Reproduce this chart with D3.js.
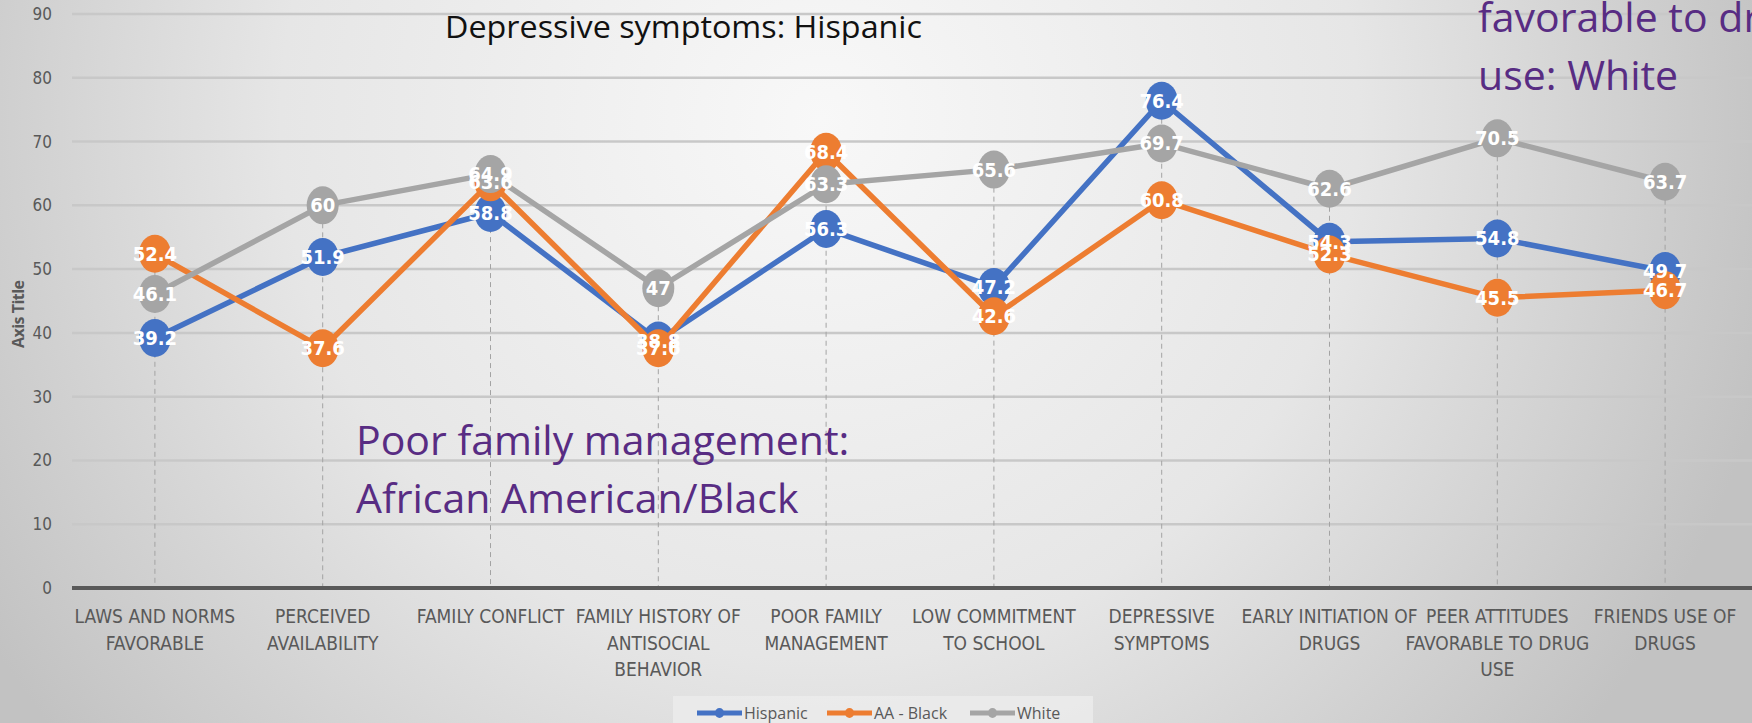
<!DOCTYPE html>
<html>
<head>
<meta charset="utf-8">
<script src="https://cdn.jsdelivr.net/npm/d3@7"></script>
<style>
body { margin: 0; overflow: hidden; }
svg { display: block; }
.tick-label { font-family: "Liberation Sans Narrow", "DejaVu Sans Condensed", "Liberation Sans", sans-serif; fill: #595959; }
.cat-label { font-family: "Liberation Sans Narrow", "DejaVu Sans Condensed", "Liberation Sans", sans-serif; fill: #595959; }
.data-label { font-family: "Liberation Sans Narrow", "DejaVu Sans Condensed", "Liberation Sans", sans-serif; font-weight: bold; fill: #fff; }
.note { font-family: "Open Sans", "Lato", sans-serif; fill: #582c83; }
</style>
</head>
<body>
<svg id="chart" width="1752" height="723"></svg>
<script>
// categories (already split into the lines shown under the axis)
var categories = [
  ["LAWS AND NORMS", "FAVORABLE"],
  ["PERCEIVED", "AVAILABILITY"],
  ["FAMILY CONFLICT"],
  ["FAMILY HISTORY OF", "ANTISOCIAL", "BEHAVIOR"],
  ["POOR FAMILY", "MANAGEMENT"],
  ["LOW COMMITMENT", "TO SCHOOL"],
  ["DEPRESSIVE", "SYMPTOMS"],
  ["EARLY INITIATION OF", "DRUGS"],
  ["PEER ATTITUDES", "FAVORABLE TO DRUG", "USE"],
  ["FRIENDS USE OF", "DRUGS"]
];
var seriesNames = ["Hispanic", "AA - Black", "White"];
var hispanic = [39.2, 51.9, 58.8, 38.8, 56.3, 47.2, 76.4, 54.3, 54.8, 49.7];
var aaBlack  = [52.4, 37.6, 63.6, 37.6, 68.4, 42.6, 60.8, 52.3, 45.5, 46.7];
var white    = [46.1, 60, 64.9, 47, 63.3, 65.6, 69.7, 62.6, 70.5, 63.7];
var yTicks = [0, 10, 20, 30, 40, 50, 60, 70, 80, 90];
var colors = ["#4472c4", "#ed7d31", "#a5a5a5"];

var values = [hispanic, aaBlack, white];
var keys = categories.map(c => c.join(" "));

var svg = d3.select("#chart");

// background
var defs = svg.append("defs");
var grad = defs.append("radialGradient").attr("id", "bg")
  .attr("gradientUnits", "userSpaceOnUse")
  .attr("cx", 820).attr("cy", 120).attr("r", 980);
grad.append("stop").attr("offset", "0%").attr("stop-color", "#f8f8f8");
grad.append("stop").attr("offset", "55%").attr("stop-color", "#e6e6e6");
grad.append("stop").attr("offset", "100%").attr("stop-color", "#c2c2c2");
svg.append("rect").attr("width", 1752).attr("height", 723).attr("fill", "url(#bg)");

var x = d3.scalePoint().domain(keys).range([71, 1749]).padding(0.5);
var y = d3.scaleLinear().domain([0, 90]).range([588, 14]);

// gridlines
svg.append("g").selectAll("line").data(yTicks.filter(t => t > 0)).enter().append("line")
  .attr("x1", 72).attr("x2", 1752)
  .attr("y1", d => y(d)).attr("y2", d => y(d))
  .attr("stroke", "#c8c8c8").attr("stroke-width", 2.5);

// y tick labels
svg.append("g").selectAll("text").data(yTicks).enter().append("text")
  .attr("class", "tick-label")
  .attr("x", 52).attr("y", d => y(d) + 6)
  .attr("text-anchor", "end")
  .attr("font-size", 17)
  .text(d => d);

// axis title
svg.append("text")
  .attr("transform", "translate(24,314) rotate(-90)")
  .attr("text-anchor", "middle")
  .attr("font-family", "'Open Sans', sans-serif")
  .attr("font-weight", "bold")
  .attr("font-size", 16)
  .attr("fill", "#595959")
  .attr("textLength", 68).attr("lengthAdjust", "spacing")
  .text("Axis Title");

// drop lines
svg.append("g").selectAll("line").data(keys).enter().append("line")
  .attr("x1", d => x(d)).attr("x2", d => x(d))
  .attr("y1", (d, i) => y(d3.max(values, v => v[i])))
  .attr("y2", y(0))
  .attr("stroke", "#a3a3a3").attr("stroke-width", 1)
  .attr("stroke-dasharray", "5,4");

// x axis line
svg.append("line")
  .attr("x1", 72).attr("x2", 1752).attr("y1", y(0)).attr("y2", y(0))
  .attr("stroke", "#595959").attr("stroke-width", 4);

// category labels
var cat = svg.append("g").selectAll("text").data(categories).enter().append("text")
  .attr("class", "cat-label")
  .attr("text-anchor", "middle")
  .attr("font-size", 19)
  .attr("x", (d, i) => x(keys[i]))
  .attr("y", 623);
cat.selectAll("tspan").data(d => d).enter().append("tspan")
  .attr("x", function () { return d3.select(this.parentNode).attr("x"); })
  .attr("dy", (d, i) => i === 0 ? 0 : 26.5)
  .text(d => d);

// lines and markers
var line = d3.line().x((d, i) => x(keys[i])).y(d => y(d));
values.forEach(function (v, s) {
  svg.append("path").datum(v)
    .attr("d", line)
    .attr("fill", "none")
    .attr("stroke", colors[s])
    .attr("stroke-width", 5.5)
    .attr("stroke-linejoin", "round");
  svg.append("g").selectAll("ellipse").data(v).enter().append("ellipse")
    .attr("cx", (d, i) => x(keys[i]))
    .attr("cy", d => y(d))
    .attr("rx", 16).attr("ry", 19)
    .attr("fill", colors[s]);
});

// data labels
values.forEach(function (v, s) {
  svg.append("g").selectAll("text").data(v).enter().append("text")
    .attr("class", "data-label")
    .attr("x", (d, i) => x(keys[i]))
    .attr("y", d => y(d) + 7)
    .attr("text-anchor", "middle")
    .attr("font-size", 20)
    .text(d => d);
});

// title
svg.append("text")
  .attr("x", 445).attr("y", 38)
  .attr("font-family", "'Open Sans', sans-serif")
  .attr("font-size", 31)
  .attr("fill", "#111")
  .attr("textLength", 477).attr("lengthAdjust", "spacingAndGlyphs")
  .text("Depressive symptoms: Hispanic");

// annotations
var note1 = svg.append("text").attr("class", "note").attr("font-size", 41).attr("x", 356).attr("y", 455);
note1.append("tspan").attr("x", 356).attr("dy", 0).text("Poor family management:");
note1.append("tspan").attr("x", 356).attr("dy", 58).text("African American/Black");

var note2 = svg.append("text").attr("class", "note").attr("font-size", 41).attr("x", 1478).attr("y", -26);
note2.append("tspan").attr("x", 1478).attr("dy", 0).text("Peer attitudes");
note2.append("tspan").attr("x", 1478).attr("dy", 58).text("favorable to drug");
note2.append("tspan").attr("x", 1478).attr("dy", 58).text("use: White");

// legend
var legend = svg.append("g");
legend.append("rect").attr("x", 673).attr("y", 696).attr("width", 420).attr("height", 30)
  .attr("fill", "#ececec").attr("opacity", 0.8);
var legendX = [697, 827, 970];
seriesNames.forEach(function (n, s) {
  var g = legend.append("g").attr("transform", "translate(" + legendX[s] + ",713)");
  g.append("line").attr("x1", 0).attr("x2", 45).attr("stroke", colors[s]).attr("stroke-width", 5);
  g.append("ellipse").attr("cx", 22.5).attr("rx", 4.5).attr("ry", 5).attr("fill", colors[s]);
  g.append("text").attr("x", 47).attr("y", 6)
    .attr("font-family", "'Open Sans', sans-serif").attr("font-size", 16)
    .attr("fill", "#595959").text(n);
});
</script>
</body>
</html>
